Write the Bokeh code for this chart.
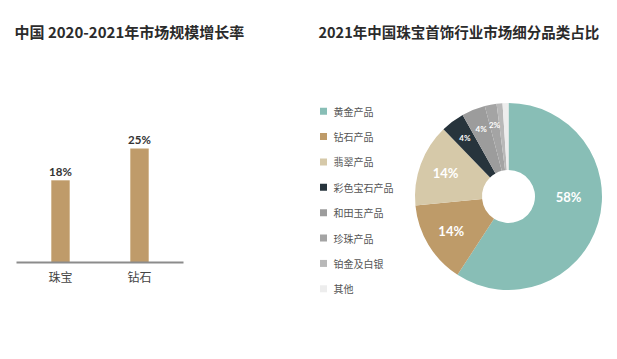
import math
from bokeh.plotting import figure
from bokeh.models import Range1d, ColumnDataSource
from bokeh.embed import file_html
from bokeh.resources import INLINE
from bokeh.core.properties import value

# ---------------- data ----------------
bar_title = "中国 2020-2021年市场规模增长率"
bar_categories = ["珠宝", "钻石"]
bar_growth = [18, 25]

pie_title = "2021年中国珠宝首饰行业市场细分品类占比"
pie_categories = ["黄金产品", "钻石产品", "翡翠产品", "彩色宝石产品",
                  "和田玉产品", "珍珠产品", "铂金及白银", "其他"]
pie_values = [58, 14, 14, 4, 4, 2, 1, 1]
pie_colors = ["#88BEB6", "#BE9B69", "#D6C9A9", "#27343C",
              "#9C9C9C", "#A4A4A4", "#B8B8B8", "#EDEDED"]

CJK = "Noto Sans CJK SC"
NUM = "Lato"
TITLE_COLOR = "#2b2b2b"

W, H = 609, 351
p = figure(width=W, height=H, x_range=Range1d(0, W), y_range=Range1d(0, H),
           x_axis_location=None, y_axis_location=None, min_border=0,
           output_backend="svg", toolbar_location=None)
p.outline_line_color = None
p.grid.visible = False

# ---------------- left: bar chart (own scales) ----------------
bar_px = 79.0          # pixels per category step
bar_x0 = 60.0          # canvas x of first category centre
p.extra_x_ranges = {"bar": Range1d(-bar_x0 / bar_px, (W - bar_x0) / bar_px)}
pct_px = 4.55          # pixels per percent
base_y = 89.0          # canvas height below zero line
p.extra_y_ranges = {"bar": Range1d(-base_y / pct_px, (H - base_y) / pct_px)}

idx = list(range(len(bar_categories)))
src1 = ColumnDataSource(dict(x=idx, cat=bar_categories, v=bar_growth,
                             lab=[f"{v}%" for v in bar_growth],
                             zero=[0] * len(idx)))
p.vbar(x="x", top="v", bottom=0, width=0.228, source=src1,
       x_range_name="bar", y_range_name="bar",
       fill_color="#BF9B6A", line_color="#C8A678", line_width=0.5)
p.text(x="x", y="v", text="lab", source=src1, x_range_name="bar", y_range_name="bar",
       text_align="center", text_baseline="middle", y_offset=-9,
       text_font=value(NUM), text_font_size="11.5px", text_font_style="bold",
       text_color="#333333")
# baseline axis
ext = 0.557
p.segment(x0=[idx[0] - ext], x1=[idx[-1] + ext], y0=[0], y1=[0],
          x_range_name="bar", y_range_name="bar",
          line_color="#8c8c8c", line_width=2)
p.text(x="x", y="zero", text="cat", source=src1, x_range_name="bar", y_range_name="bar",
       text_align="center", text_baseline="middle", y_offset=14,
       text_font=value(CJK), text_font_size="12px", text_color="#444444")

p.text(x=[14], y=[320.5], text=[bar_title], text_baseline="middle",
       text_font=value(CJK), text_font_size="15px", text_font_style="bold",
       text_color=TITLE_COLOR)

# ---------------- right: donut ----------------
cx, cy = 508, 155
r_in, r_out = 26.5, 93.5
total = float(sum(pie_values))
starts, ends, lx, ly, labs, lsize = [], [], [], [], [], []
cum = 0.0
for v in pie_values:
    a0 = math.pi / 2 - 2 * math.pi * cum / total
    a1 = math.pi / 2 - 2 * math.pi * (cum + v) / total
    starts.append(a0)
    ends.append(a1)
    mid = (a0 + a1) / 2
    if v / total > 0.5:
        ang, rr = 0.0, 60
    elif v >= 10:
        ang, rr = mid, 67
    else:
        ang, rr = mid, 73
    lx.append(cx + rr * math.cos(ang))
    ly.append(cy + rr * math.sin(ang))
    labs.append(f"{v}%" if v >= 2 else "")
    lsize.append("13px" if v >= 10 else "8px")
    cum += v

src2 = ColumnDataSource(dict(start=starts, end=ends, color=pie_colors,
                             lx=lx, ly=ly, lab=labs, fs=lsize))
p.annular_wedge(x=cx, y=cy, inner_radius=r_in, outer_radius=r_out,
                start_angle="start", end_angle="end", direction="clock",
                fill_color="color", line_color=None, source=src2)
p.text(x="lx", y="ly", text="lab", text_font_size="fs", source=src2,
       text_align="center", text_baseline="middle", text_font=value(NUM),
       text_font_style="bold", text_color="white")

# legend
n = len(pie_categories)
leg_y = [240.3 - i * 25.37 for i in range(n)]
src3 = ColumnDataSource(dict(y=leg_y, color=pie_colors, cat=pie_categories))
p.scatter(x=323, y="y", marker="square", size=7, fill_color="color",
          line_color=None, source=src3)
p.text(x=333, y="y", text="cat", source=src3, text_baseline="middle",
       text_font=value(CJK), text_font_size="10px", text_color="#555555")

p.text(x=[318], y=[320.5], text=[pie_title], text_baseline="middle",
       text_font=value(CJK), text_font_size="14.5px", text_font_style="bold",
       text_color=TITLE_COLOR)

open("out.html", "w").write(file_html(p, INLINE))
